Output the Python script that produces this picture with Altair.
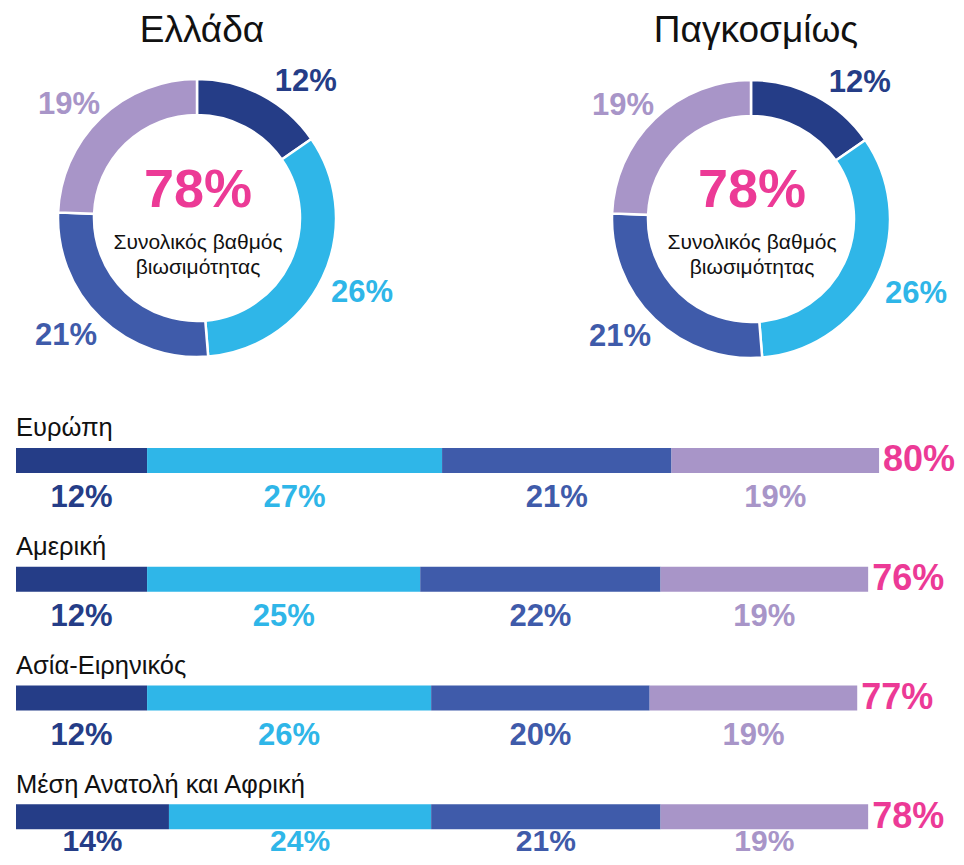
import altair as alt
import pandas as pd

# ---- data ----
segments = ["Τμήμα 1", "Τμήμα 2", "Τμήμα 3", "Τμήμα 4"]
seg_colors = ["#253D87", "#2FB6E8", "#3F5BAA", "#A895C8"]
PINK = "#EC3A96"

donut_titles = ["Ελλάδα", "Παγκοσμίως"]
donut_values = [[12, 26, 21, 19], [12, 26, 21, 19]]
donut_totals = ["78%", "78%"]
center_line1 = "Συνολικός βαθμός"
center_line2 = "βιωσιμότητας"

regions = ["Ευρώπη", "Αμερική", "Ασία-Ειρηνικός", "Μέση Ανατολή και Αφρική"]
region_values = [
    [12, 27, 21, 19],
    [12, 25, 22, 19],
    [12, 26, 20, 19],
    [14, 24, 21, 19],
]
region_totals = ["80%", "76%", "77%", "78%"]

FONT = "Liberation Sans"
TWO_PI = 6.283185307179586

color_scale = alt.Scale(domain=segments, range=seg_colors)
color_enc = alt.Color("seg:N", scale=color_scale, legend=None)

# label nudges (dx, dy) per segment, to sit the labels as in the original
label_nudge = [(27, 20), (6, 0), (-9, -9), (-6, 14)]


def donut_layers(title, values, total, cx, cy):
    starts, s = [], 0
    for v in values:
        starts.append(s)
        s += v
    df = pd.DataFrame({
        "seg": segments,
        "value": values,
        "start": starts,
        "end": [a + b for a, b in zip(starts, values)],
        "mid": [a + b / 2 for a, b in zip(starts, values)],
        "order": list(range(len(segments))),
        "label": [f"{v}%" for v in values],
    })
    tscale = alt.Scale(domain=[0, sum(values)], range=[0, TWO_PI], nice=False, zero=True)
    base = alt.Chart(df).encode(x=alt.value(cx), y=alt.value(cy))
    layers = [
        base.mark_arc(innerRadius=103, outerRadius=139, stroke="white", strokeWidth=2.5).encode(
            theta=alt.Theta("start:Q", scale=tscale), theta2="end:Q", color=color_enc)
    ]
    for i, (dx, dy) in enumerate(label_nudge):
        layers.append(
            base.mark_text(radius=176, font=FONT, fontWeight="bold", fontSize=31, dx=dx, dy=dy)
            .encode(theta=alt.Theta("mid:Q", scale=tscale), text="label:N", color=color_enc)
            .transform_filter(f"datum.order == {i}")
        )
    tdf = pd.DataFrame({"t": [title], "tot": [total], "l1": [center_line1], "l2": [center_line2]})
    tb = alt.Chart(tdf)
    layers += [
        tb.mark_text(font=FONT, fontSize=37, color="#111111", baseline="alphabetic").encode(
            text="t:N", x=alt.value(cx + 5), y=alt.value(34)),
        tb.mark_text(font=FONT, fontSize=54, fontWeight="bold", color=PINK, baseline="alphabetic").encode(
            text="tot:N", x=alt.value(cx + 1), y=alt.value(199)),
        tb.mark_text(font=FONT, fontSize=21, color="#111111", baseline="alphabetic").encode(
            text="l1:N", x=alt.value(cx + 1), y=alt.value(241)),
        tb.mark_text(font=FONT, fontSize=21, color="#111111", baseline="alphabetic").encode(
            text="l2:N", x=alt.value(cx + 1), y=alt.value(266)),
    ]
    return layers


greece = donut_layers(donut_titles[0], donut_values[0], donut_totals[0], 189, 210)
world = donut_layers(donut_titles[1], donut_values[1], donut_totals[1], 743, 211)

rows = []
for r, vals in zip(regions, region_values):
    start = 0
    for i, (s, v) in enumerate(zip(segments, vals)):
        rows.append({"region": r, "seg": s, "value": v, "start": start, "end": start + v,
                     "mid": start + v / 2, "label": f"{v}%", "order": i})
        start += v
bars_df = pd.DataFrame(rows)
tot_df = pd.DataFrame({
    "region": regions,
    "end": [sum(v) for v in region_values],
    "total": region_totals,
    "zero": [0] * len(regions),
})

xs = alt.Scale(domain=[0, 80], range=[8, 882], nice=False, zero=True)
ys = alt.Scale(domain=regions, range=[393, 868], paddingInner=0, paddingOuter=0)

bars = alt.Chart(bars_df).mark_bar(size=25).encode(
    x=alt.X("start:Q", scale=xs, axis=None),
    x2="end:Q",
    y=alt.Y("region:N", scale=ys, axis=None),
    color=color_enc,
)
seg_enc = dict(
    x=alt.X("mid:Q", scale=xs, axis=None),
    y=alt.Y("region:N", scale=ys, axis=None),
    text="label:N",
    color=color_enc,
)
last_region = regions[-1]
seg_labels = alt.Chart(bars_df).mark_text(font=FONT, fontWeight="bold", fontSize=31, dy=38).encode(
    **seg_enc).transform_filter(alt.datum.region != last_region)
seg_labels_last = alt.Chart(bars_df).mark_text(font=FONT, fontWeight="bold", fontSize=30, dy=25).encode(
    **seg_enc).transform_filter(alt.datum.region == last_region)
region_labels = alt.Chart(tot_df).mark_text(font=FONT, fontSize=25.5, color="#111111", align="left", dy=-32).encode(
    x=alt.X("zero:Q", scale=xs, axis=None),
    y=alt.Y("region:N", scale=ys, axis=None),
    text="region:N",
)
totals = alt.Chart(tot_df).mark_text(font=FONT, fontWeight="bold", fontSize=36, color=PINK, align="left", dx=4).encode(
    x=alt.X("end:Q", scale=xs, axis=None),
    y=alt.Y("region:N", scale=ys, axis=None),
    text="total:N",
)

chart = alt.layer(
    *greece, *world, bars, seg_labels, seg_labels_last, region_labels, totals
).properties(
    width=948, height=845, padding=0,
    autosize=alt.AutoSizeParams(type="none"),
).configure_view(stroke=None)

chart.save("out.html", embed_options={"renderer": "svg", "actions": False})
